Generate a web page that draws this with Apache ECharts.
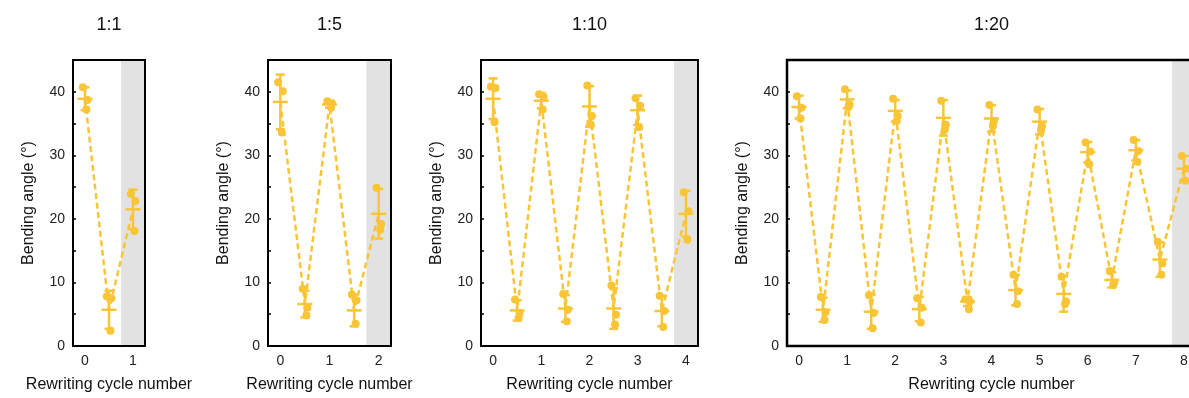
<!DOCTYPE html>
<html>
<head>
<meta charset="utf-8">
<script src="https://cdn.jsdelivr.net/npm/echarts@6/dist/echarts.min.js"></script>
<style>
html,body{margin:0;padding:0;background:#fff;overflow:hidden;}
#c{width:1200px;height:398px;}
</style>
</head>
<body>
<div id="c"></div>
<script>
// ---------- DATA ----------
const panelTitles = ['1:1', '1:5', '1:10', '1:20'];
const xTitle = 'Rewriting cycle number';
const yTitle = 'Bending angle (°)';
const yTicks = [0, 10, 20, 30, 40];
const yMinorTicks = [0, 5, 10, 15, 20, 25, 30, 35, 40];

// panel 1 (1:1)
const p1X = [0, 0.5, 1];
const p1Mean = [38.9, 5.7, 21.5];
const p1Sd = [1.8, 3.0, 3.1];
const p1Pts = [[40.7, 38.7, 37.2], [7.8, 7.5, 2.4], [23.9, 22.8, 18.1]];
const p1XTicks = [0, 1];
const p1Shade = [0.75, 1.25];

// panel 2 (1:5)
const p2X = [0, 0.5, 1, 1.5, 2];
const p2Mean = [38.4, 6.6, 38.0, 5.6, 20.8];
const p2Sd = [4.3, 2.1, 0.5, 2.5, 3.9];
const p2Pts = [[41.5, 40.1, 33.6], [9.0, 6.0, 4.8], [38.5, 38.2, 37.5], [8.1, 7.2, 3.5], [24.9, 19.2, 18.3]];
const p2XTicks = [0, 1, 2];
const p2Shade = [1.75, 2.25];

// panel 3 (1:10)
const p3X = [0, 0.5, 1, 1.5, 2, 2.5, 3, 3.5, 4];
const p3Mean = [38.9, 5.6, 38.6, 5.9, 37.7, 5.9, 37.1, 5.5, 20.8];
const p3Sd = [3.2, 1.6, 1.2, 2.1, 3.2, 3.2, 2.3, 2.4, 3.6];
const p3Pts = [[40.8, 40.6, 35.2], [7.3, 5.2, 4.4], [39.6, 39.2, 37.2], [8.2, 5.7, 3.9], [41.0, 36.2, 34.8],
               [9.5, 4.9, 3.4], [39.0, 37.8, 34.4], [7.9, 5.5, 3.0], [24.2, 21.2, 16.7]];
const p3XTicks = [0, 1, 2, 3, 4];
const p3Shade = [3.75, 4.25];

// panel 4 (1:20)
const p4X = [0, 0.5, 1, 1.5, 2, 2.5, 3, 3.5, 4, 4.5, 5, 5.5, 6, 6.5, 7, 7.5, 8];
const p4Mean = [37.6, 5.7, 38.8, 5.4, 37.0, 5.8, 35.9, 7.0, 35.8, 8.8, 35.3, 8.2, 30.5, 10.4, 30.8, 13.6, 27.9];
const p4Sd = [1.8, 1.9, 1.4, 2.7, 1.7, 1.9, 2.8, 0.7, 2.1, 2.4, 2.0, 2.8, 1.6, 1.2, 1.6, 2.7, 2.0];
const p4Pts = [[39.3, 37.5, 35.8], [7.7, 5.3, 4.1], [40.4, 38.0, 37.6], [8.0, 5.2, 2.8], [38.9, 36.2, 35.4],
               [7.5, 6.0, 3.7], [38.6, 34.8, 34.1], [7.3, 7.0, 5.8], [37.9, 35.4, 34.6], [11.2, 8.6, 6.6],
               [37.2, 34.6, 33.9], [10.9, 7.0, 6.6], [32.0, 30.6, 28.6], [11.8, 10.0, 9.6], [32.4, 30.7, 29.0],
               [16.4, 13.0, 11.2], [29.9, 27.9, 26.0]];
const p4XTicks = [0, 1, 2, 3, 4, 5, 6, 7, 8];
const p4Shade = [7.75, 8.25];

const jitter = [-0.045, 0.05, 0.03];

// ---------- STYLE / LAYOUT ----------
const YEL = '#F9C536';
const GRAY = '#E2E2E2';
const FONT = '"Liberation Sans", Arial, sans-serif';
const panels = [
  {x: p1X, mean: p1Mean, sd: p1Sd, pts: p1Pts, ticks: p1XTicks, shade: p1Shade, xmin: -0.25, xmax: 1.25, left: 73, width: 72, bw: 2},
  {x: p2X, mean: p2Mean, sd: p2Sd, pts: p2Pts, ticks: p2XTicks, shade: p2Shade, xmin: -0.25, xmax: 2.25, left: 268, width: 123, bw: 2},
  {x: p3X, mean: p3Mean, sd: p3Sd, pts: p3Pts, ticks: p3XTicks, shade: p3Shade, xmin: -0.25, xmax: 4.25, left: 481, width: 217, bw: 2},
  {x: p4X, mean: p4Mean, sd: p4Sd, pts: p4Pts, ticks: p4XTicks, shade: p4Shade, xmin: -0.25, xmax: 8.25, left: 787, width: 409, bw: 2.5}
];
const TOP = 60, HEIGHT = 288;

const grids = [], xAxes = [], yAxes = [], series = [], graphics = [];
panels.forEach((p, i) => {
  grids.push({left: p.left, top: TOP, width: p.width, height: HEIGHT, show: true,
    borderColor: '#000', borderWidth: p.bw, backgroundColor: 'transparent', z: 10});
  xAxes.push({type: 'value', gridIndex: i, min: p.xmin, max: p.xmax,
    splitLine: {show: false}, axisLine: {show: false, onZero: false}, axisTick: {show: false},
    axisLabel: {customValues: p.ticks, color: '#222', fontSize: 14, fontFamily: FONT, margin: 8},
    name: xTitle, nameLocation: 'middle', nameGap: 31,
    nameTextStyle: {color: '#111', fontSize: 16, fontFamily: FONT}});
  yAxes.push({type: 'value', gridIndex: i, min: 0, max: 45,
    splitLine: {show: false}, axisLine: {show: false, onZero: false},
    axisTick: {show: true, inside: true, length: 3, customValues: yMinorTicks, lineStyle: {color: '#000', width: 1.5}},
    axisLabel: {customValues: yTicks, color: '#222', fontSize: 14, fontFamily: FONT, margin: 8},
    name: yTitle, nameLocation: 'middle', nameGap: 36, nameRotate: 90,
    nameTextStyle: {color: '#111', fontSize: 16, fontFamily: FONT}, z: 10});

  // dashed mean line + shaded region
  series.push({type: 'line', xAxisIndex: i, yAxisIndex: i, z: 2,
    data: p.x.map((x, k) => [x, p.mean[k]]), symbol: 'none', silent: true,
    lineStyle: {color: YEL, width: 2.5, type: [6, 3.5]},
    markArea: {silent: true, itemStyle: {color: GRAY}, data: [[{xAxis: p.shade[0]}, {xAxis: p.shade[1]}]]}});
  // error bars + mean dash
  series.push({type: 'custom', xAxisIndex: i, yAxisIndex: i, z: 3,
    data: p.x.map((x, k) => [x, p.mean[k], p.sd[k]]), encode: {x: 0, y: 1},
    renderItem: (params, api) => {
      const x = api.value(0), m = api.value(1), s = api.value(2);
      const t = api.coord([x, m + s]), b = api.coord([x, m - s]), c = api.coord([x, m]);
      const st = {stroke: YEL, lineWidth: 2.5, fill: null};
      const cap = 4.5, half = 7.5;
      return {type: 'group', children: [
        {type: 'line', shape: {x1: t[0], y1: t[1], x2: b[0], y2: b[1]}, style: st},
        {type: 'line', shape: {x1: t[0] - cap, y1: t[1], x2: t[0] + cap, y2: t[1]}, style: st},
        {type: 'line', shape: {x1: b[0] - cap, y1: b[1], x2: b[0] + cap, y2: b[1]}, style: st},
        {type: 'line', shape: {x1: c[0] - half, y1: c[1], x2: c[0] + half, y2: c[1]}, style: st}
      ]};
    }});
  // individual points
  const pts = [];
  p.x.forEach((x, k) => p.pts[k].forEach((v, j) => pts.push([x + jitter[j], v])));
  series.push({type: 'scatter', xAxisIndex: i, yAxisIndex: i, z: 4, data: pts,
    symbol: 'circle', symbolSize: 8, itemStyle: {color: YEL, opacity: 1}});

  graphics.push({type: 'text', x: p.left + p.width / 2, y: 25,
    style: {text: panelTitles[i], textAlign: 'center', textVerticalAlign: 'middle',
      font: '18px ' + FONT, fill: '#111'}});
});

const chart = echarts.init(document.getElementById('c'), null, {renderer: 'canvas'});
chart.setOption({
  animation: false,
  backgroundColor: '#fff',
  grid: grids, xAxis: xAxes, yAxis: yAxes, series: series, graphic: graphics
});
</script>
</body>
</html>
